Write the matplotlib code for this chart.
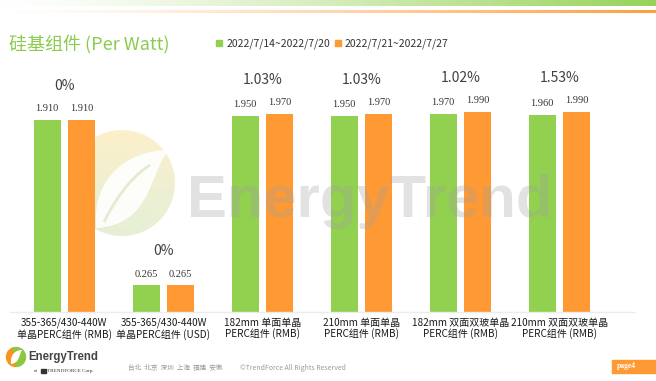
import numpy as np
import matplotlib.pyplot as plt
import matplotlib.patches as mpatches
from matplotlib.path import Path

plt.rcParams['font.family'] = ['Noto Sans CJK SC', 'DejaVu Sans']

categories = ['355-365/430-440W\n单晶PERC组件 (RMB)',
              '355-365/430-440W\n单晶PERC组件 (USD)',
              '182mm 单面单晶\nPERC组件 (RMB)',
              '210mm 单面单晶\nPERC组件 (RMB)',
              '182mm 双面双玻单晶\nPERC组件 (RMB)',
              '210mm 双面双玻单晶\nPERC组件 (RMB)']
week1 = [1.910, 0.265, 1.950, 1.950, 1.970, 1.960]
week2 = [1.910, 0.265, 1.970, 1.970, 1.990, 1.990]
changes = ['0%', '0%', '1.03%', '1.03%', '1.02%', '1.53%']
legend_labels = ['2022/7/14~2022/7/20', '2022/7/21~2022/7/27']

GREEN = '#92D050'
ORANGE = '#FF9933'

W, H = 656, 381
fig = plt.figure(figsize=(W / 100, H / 100), dpi=100)

# background decoration layer (pixel coords)
bg = fig.add_axes([0, 0, 1, 1], zorder=0)
bg.set_xlim(0, W)
bg.set_ylim(H, 0)
bg.axis('off')

# top gradient bands
g = np.linspace(0, 1, 256) ** 1.3
band_g = np.ones((1, 256, 3))
band_o = np.ones((1, 256, 3))
cg = np.array([146, 208, 80]) / 255
co = np.array([255, 153, 51]) / 255
for k in range(3):
    band_g[0, :, k] = 1 - g * (1 - cg[k]) * 0.95
    band_o[0, :, k] = 1 - g * (1 - co[k]) * 0.95
bg.imshow(band_g, extent=(0, W, 6, 0), aspect='auto')
bg.imshow(band_o, extent=(0, W, 13, 10), aspect='auto')

# big watermark circle
cx, cy, r = 122, 183, 53
yy, xx = np.mgrid[0:1:100j, 0:1:100j]
img = np.zeros((100, 100, 4))
top = np.array([253, 236, 190]) / 255
bot = np.array([220, 234, 204]) / 255
right = np.array([236, 244, 204]) / 255
t = yy[..., None]
s = xx[..., None]
col = top * (1 - t) + bot * t
col = col * (1 - 0.4 * s * t) + right * 0.4 * s * t
img[..., :3] = col
img[..., 3] = 0.8
im = bg.imshow(img, extent=(cx - r, cx + r, cy + r, cy - r), aspect='auto', zorder=1)
im.set_clip_path(mpatches.Circle((cx, cy), r, transform=bg.transData))
leaf = Path([(96, 228), (92, 175), (130, 150), (170, 150),
             (150, 165), (155, 225), (96, 228), (96, 228)],
            [Path.MOVETO, Path.CURVE4, Path.CURVE4, Path.CURVE4,
             Path.CURVE4, Path.CURVE4, Path.CURVE4, Path.CLOSEPOLY])
bg.add_patch(mpatches.PathPatch(leaf, facecolor='white', edgecolor='none', alpha=0.9, zorder=2))
stem = Path([(104, 222), (120, 190), (135, 175), (150, 165)],
            [Path.MOVETO, Path.CURVE4, Path.CURVE4, Path.CURVE4])
bg.add_patch(mpatches.PathPatch(stem, facecolor='none', edgecolor='#e2ecd2', lw=2, zorder=3))

# bar chart
ax = fig.add_axes([10 / W, (H - 312) / H, 625 / W, 252 / H], zorder=2)
ax.patch.set_alpha(0)
x = np.arange(len(categories))
off = 0.174
bw = 0.27
ax.bar(x - off, week1, bw, color=GREEN, zorder=2)
ax.bar(x + off, week2, bw, color=ORANGE, zorder=2)
for i in range(len(categories)):
    ax.text(x[i] - off, week1[i] + 0.11, f'{week1[i]:.3f}', ha='center', va='center',
            fontsize=7.5, family='Liberation Serif', color='#333333')
    ax.text(x[i] + off, week2[i] + 0.11, f'{week2[i]:.3f}', ha='center', va='center',
            fontsize=7.5, family='Liberation Serif', color='#333333')
    ax.text(x[i], max(week1[i], week2[i]) + 0.34, changes[i], ha='center', va='center',
            fontsize=10, color='#404040')
ax.set_xlim(-0.55, 5.763)
ax.set_ylim(0, 2.507)
ax.set_yticks([])
ax.set_xticks(x)
ax.set_xticklabels(categories, fontsize=7.2, color='#1a1a1a', linespacing=1.1)
ax.tick_params(axis='x', length=0, pad=4)
for sp in ['top', 'left', 'right']:
    ax.spines[sp].set_visible(False)
ax.spines['bottom'].set_color('#ececec')
ax.spines['bottom'].set_linewidth(1)

# overlay layer: watermark text, title, legend, footer
ov = fig.add_axes([0, 0, 1, 1], zorder=5)
ov.set_xlim(0, W)
ov.set_ylim(H, 0)
ov.axis('off')
ov.patch.set_alpha(0)
ov.text(187, 217, 'EnergyTrend', fontsize=43, fontweight='bold', family='Liberation Sans',
        color='#a0a0a0', alpha=0.3, va='baseline', ha='left')

ov.text(9, 45, '硅基组件 (Per Watt)', fontsize=13, color='#8CCB4E', va='center', ha='left')

handles = [mpatches.Patch(color=GREEN, label=legend_labels[0]),
           mpatches.Patch(color=ORANGE, label=legend_labels[1])]
fig.legend(handles=handles, loc='center left', bbox_to_anchor=(211 / W, 1 - 44 / H),
           ncol=2, frameon=False, fontsize=7.5, handlelength=0.6, handleheight=0.6,
           handletextpad=0.35, columnspacing=0.5, borderpad=0, labelcolor='#333333')

# footer logo
ov.add_patch(mpatches.Wedge((16, 357), 9.5, 90, 250, color='#F7941D'))
ov.add_patch(mpatches.Wedge((16, 357), 9.5, 250, 90, color='#8DC63F'))
small_leaf = Path([(11, 364), (10, 355), (15, 350), (22, 350),
                   (19, 354), (20, 363), (11, 364), (11, 364)],
                  [Path.MOVETO, Path.CURVE4, Path.CURVE4, Path.CURVE4,
                   Path.CURVE4, Path.CURVE4, Path.CURVE4, Path.CLOSEPOLY])
ov.add_patch(mpatches.PathPatch(small_leaf, facecolor='white', edgecolor='none'))
ov.text(28, 357, 'EnergyTrend', fontsize=8.3, fontweight='bold', family='Liberation Sans',
        color='#444444', va='center', ha='left')
ov.add_patch(mpatches.Rectangle((41, 368.5), 5, 4, color='#333333'))
ov.text(34, 371, 'of', fontsize=3.5, family='Liberation Serif', color='#333333', va='center')
ov.text(47, 371, 'TRENDFORCE Corp.', fontsize=3.7, family='Liberation Serif', color='#333333', va='center')

ov.text(128, 368, '台北  北京  深圳  上海  福建  安徽', fontsize=4.8, color='#9a9a9a', va='center')
ov.text(240, 368, '©TrendForce All Rights Reserved', fontsize=5, color='#9a9a9a', va='center')

ov.add_patch(mpatches.Rectangle((612, 360), 44, 13, color='#FF9933'))
ov.text(617, 366.5, 'page4', fontsize=5.5, fontweight='bold', color='white', va='center',
        family='Liberation Serif')

fig.savefig('out.png', dpi=100)
